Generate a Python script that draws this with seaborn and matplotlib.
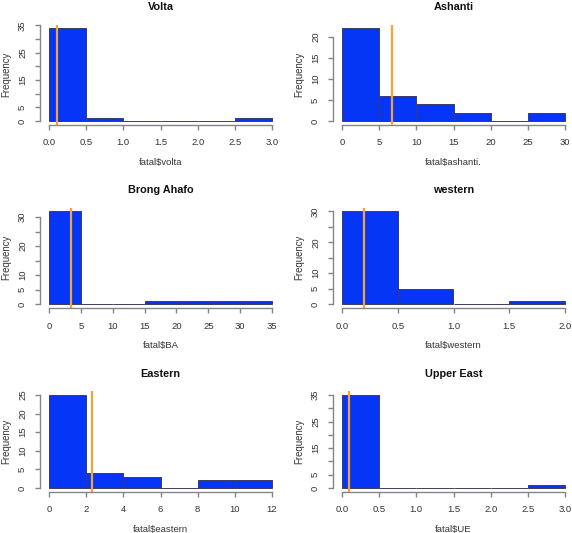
import numpy as np
import pandas as pd
import matplotlib
matplotlib.use("Agg")
import matplotlib.pyplot as plt
import seaborn as sns

sns.set_theme(style="white")
plt.rcParams['font.family'] = ['Liberation Sans', 'DejaVu Sans']

# Data (counts per bin, bin edges, mean line)
titles = ["Volta", "Ashanti", "Brong Ahafo", "western", "Eastern", "Upper East"]
xlabels = ["fatal$volta", "fatal$ashanti.", "fatal$BA", "fatal$western", "fatal$eastern", "fatal$UE"]

volta_edges = [0, 0.5, 1.0, 1.5, 2.0, 2.5, 3.0]
volta_counts = [34, 1, 0, 0, 0, 1]
ashanti_edges = [0, 5, 10, 15, 20, 25, 30]
ashanti_counts = [22, 6, 4, 2, 0, 2]
ba_edges = [0, 5, 10, 15, 20, 25, 30, 35]
ba_counts = [32, 0, 0, 1, 1, 1, 1]
western_edges = [0, 0.5, 1.0, 1.5, 2.0]
western_counts = [30, 5, 0, 1]
eastern_edges = [0, 2, 4, 6, 8, 10, 12]
eastern_counts = [25, 4, 3, 0, 2, 2]
ue_edges = [0, 0.5, 1.0, 1.5, 2.0, 2.5, 3.0]
ue_counts = [35, 0, 0, 0, 0, 1]

means = [0.11, 6.67, 3.47, 0.194, 2.32, 0.09]

# x tick labels and y ticks (R drops labels that would overlap)
xticks = [
    ["0.0", "0.5", "1.0", "1.5", "2.0", "2.5", "3.0"],
    ["0", "5", "10", "15", "20", "25", "30"],
    ["0", "5", "10", "15", "20", "25", "30", "35"],
    ["0.0", "0.5", "1.0", "1.5", "2.0"],
    ["0", "2", "4", "6", "8", "10", "12"],
    ["0.0", "0.5", "1.0", "1.5", "2.0", "2.5", "3.0"],
]
yticks = [
    [0, 5, 10, 15, 20, 25, 30, 35],
    [0, 5, 10, 15, 20],
    [0, 5, 10, 15, 20, 25, 30],
    [0, 5, 10, 15, 20, 25, 30],
    [0, 5, 10, 15, 20, 25],
    [0, 5, 10, 15, 20, 25, 30, 35],
]
ylabels_shown = [
    ["0", "5", "", "15", "", "25", "", "35"],
    ["0", "5", "10", "15", "20"],
    ["0", "5", "10", "", "20", "", "30"],
    ["0", "5", "10", "", "20", "", "30"],
    ["0", "5", "10", "15", "20", "25"],
    ["0", "5", "", "15", "", "25", "", "35"],
]

all_edges = [volta_edges, ashanti_edges, ba_edges, western_edges, eastern_edges, ue_edges]
all_counts = [volta_counts, ashanti_counts, ba_counts, western_counts, eastern_counts, ue_counts]

W, H = 572, 533
fig = plt.figure(figsize=(W / 100, H / 100), dpi=100)

col_left = [40, 333]
row_top = [24.5, 207.6, 391.3]
aw, ah = 241, 100.3

bar_col = '#0636f5'
axis_col = '#858585'
text_col = '#333333'

for i in range(6):
    r, c = divmod(i, 2)
    left = col_left[c]
    top = row_top[r]
    ax = fig.add_axes([left / W, 1 - (top + ah) / H, aw / W, ah / H])

    edges = list(all_edges[i])
    mids = [(a + b) / 2 for a, b in zip(edges[:-1], edges[1:])]
    df = pd.DataFrame({'value': mids, 'count': all_counts[i]})
    sns.histplot(data=df, x='value', weights='count', bins=edges, ax=ax,
                 color=bar_col, alpha=1, edgecolor='#3c3c66', linewidth=0.7)
    ax.axvline(means[i], color='#f4a23a', lw=1.6, zorder=5)

    xmin, xmax = edges[0], edges[-1]
    rng = xmax - xmin
    cmax = max(all_counts[i])
    ax.set_xlim(xmin - 0.04 * rng, xmax + 0.04 * rng)
    ax.set_ylim(-0.04 * cmax, 1.04 * cmax)

    ax.set_xticks([float(t) for t in xticks[i]])
    ax.set_xticklabels(xticks[i])
    ax.set_yticks(yticks[i])
    ax.set_yticklabels(ylabels_shown[i], rotation=90, va='center')

    for s in ['top', 'right']:
        ax.spines[s].set_visible(False)
    ax.spines['left'].set_bounds(yticks[i][0], yticks[i][-1])
    ax.spines['bottom'].set_bounds(xmin, xmax)
    for s in ['left', 'bottom']:
        ax.spines[s].set_color(axis_col)
        ax.spines[s].set_linewidth(1.0)

    ax.tick_params(axis='both', direction='out', length=3.5, width=1.0,
                   color=axis_col, labelsize=6.8, labelcolor=text_col,
                   bottom=True, left=True)
    ax.tick_params(axis='x', pad=6.3)
    ax.tick_params(axis='y', pad=5.8)
    ax.set_xlabel("")
    ax.set_ylabel("")

    ax.text(0.5, 1 + 17.5 / ah, titles[i], transform=ax.transAxes,
            ha='center', va='center', fontsize=7.8, fontweight='bold', color='#111111')
    ax.text(0.5, -37.6 / ah, xlabels[i], transform=ax.transAxes,
            ha='center', va='center', fontsize=6.8, color=text_col)
    ax.text(-34.0 / aw, 0.5, "Frequency", transform=ax.transAxes, rotation=90,
            ha='center', va='center', fontsize=6.9, color=text_col)

fig.savefig("out.png", dpi=100)
